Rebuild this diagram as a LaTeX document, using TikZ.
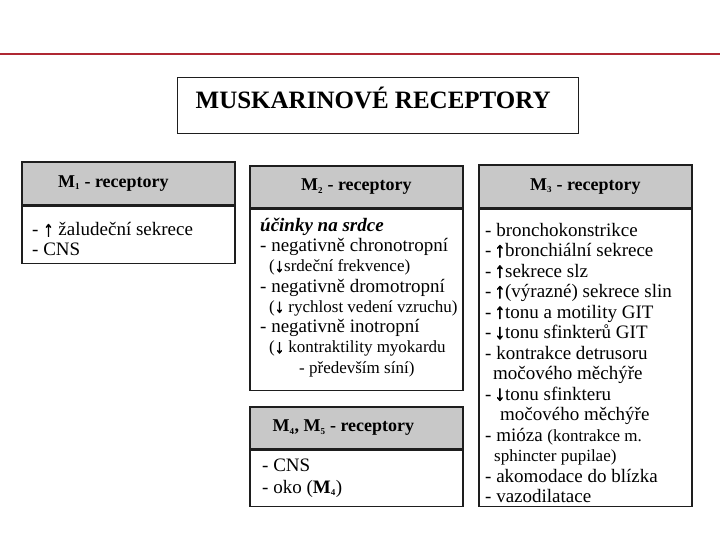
\documentclass[tikz,border=0pt]{standalone}
\usepackage{fontspec}
\setmainfont{Liberation Serif}
\newfontfamily\arrfont[FakeBold=2.5,Scale=1.1]{Liberation Serif}
\usetikzlibrary{positioning}

\definecolor{rulered}{RGB}{175,40,50}
\definecolor{hdrgray}{RGB}{200,200,200}
\definecolor{edge}{RGB}{30,30,30}

\newcommand{\up}{{\arrfont ↑}}
\newcommand{\dn}{{\arrfont ↓}}
\newcommand{\sm}{\fontsize{17}{20}\selectfont}
\newcommand{\idx}[1]{\textsubscript{\fontsize{9}{9}\selectfont #1}}

\begin{document}
\begin{tikzpicture}[
    x=1pt, y=-1pt,
    % Boxes
    titlebox/.style={draw=edge, line width=1.3pt, anchor=north west, inner sep=0pt, minimum width=401pt, text height=31pt, text depth=25pt, font=\bfseries\fontsize{25}{28}\selectfont},
    hdr/.style={draw=edge, line width=1.7pt, fill=hdrgray, anchor=north west, inner sep=0pt, minimum width=213pt, minimum height=43pt, font=\bfseries\fontsize{18}{20}\selectfont},
    panel/.style={draw=edge, line width=1.7pt, inner sep=0pt, minimum width=213pt},
    % Texts
    body/.style={anchor=north west, align=left, inner sep=0pt, font=\fontsize{19}{#1}\selectfont},
    body/.default=20.5pt,
    redrule/.style={draw=rulered, line width=1.4pt},
]
\useasboundingbox (0,0) rectangle (720,540);

% Red rule
\coordinate (ruleL) at (0,54);
\coordinate (ruleR) at (720,54);
\draw[redrule] (ruleL) -- (ruleR);

% Title
\node[titlebox] (title) at (177,77) {MUSKARINOVÉ RECEPTORY\kern10pt};

% M1
\node[hdr] (m1head) at (21,161) {M\idx{1} - receptory\kern30pt};
\node[panel, below=0pt of m1head, minimum height=57pt] (m1body) {};
\node[body=20pt, below right=16pt and 11pt of m1body.north west] (m1txt)
    {\strut- \up{} žaludeční sekrece\\- CNS};

% M2
\node[hdr, minimum height=42pt] (m2head) at (249,165) {M\idx{2} - receptory};
\node[panel, below=0pt of m2head, minimum height=181pt] (m2body) {};
\node[body=20.3pt, below right=8pt and 11pt of m2body.north west] (m2txt)
    {\strut{\bfseries\itshape účinky na srdce}\\
     - negativně chronotropní\\
     \hspace{9pt}{\sm(\dn srdeční frekvence)}\\
     - negativně dromotropní\\
     \hspace{9pt}{\sm(\dn{} rychlost vedení vzruchu)}\\
     - negativně inotropní\\
     \hspace{9pt}{\sm(\dn{} kontraktility myokardu}\\
     \hspace{39pt}{\sm- především síní)}};

% M4, M5
\node[hdr, minimum height=42pt] (m4head) at (249,406) {M\idx{4}, M\idx{5} - receptory\kern26pt};
\node[panel, below=0pt of m4head, minimum height=56pt] (m4body) {};
\node[body=22pt, below right=6pt and 13pt of m4body.north west] (m4txt)
    {\strut- CNS\\- oko ({\bfseries M\idx{4}})};

% M3
\node[hdr] (m3head) at (478,164) {M\idx{3} - receptory};
\node[panel, below=0pt of m3head, minimum height=297pt] (m3body) {};
\node[body, below right=13pt and 7pt of m3body.north west] (m3txt)
    {\strut- bronchokonstrikce\\
     -\,\up bronchiální sekrece\\
     -\,\up sekrece slz\\
     -\,\up(výrazné) sekrece slin\\
     -\,\up tonu a motility GIT\\
     -\,\dn tonu sfinkterů GIT\\
     - kontrakce detrusoru\\
     \hspace{8pt}močového měchýře\\
     -\,\dn tonu sfinkteru\\
     \hspace{15pt}močového měchýře\\
     - mióza {\sm(kontrakce m.}\\
     \hspace{9pt}{\sm sphincter pupilae)}\\
     - akomodace do blízka\\
     - vazodilatace};

\end{tikzpicture}
\end{document}
